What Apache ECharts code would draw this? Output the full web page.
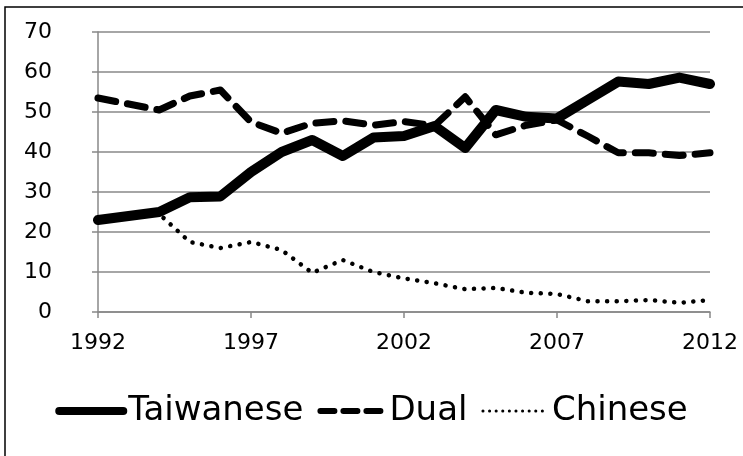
<!DOCTYPE html>
<html>
<head>
<meta charset="utf-8">
<script src="https://cdn.jsdelivr.net/npm/echarts@6/dist/echarts.min.js"></script>
<style>
  html, body { margin: 0; padding: 0; background: #fff; }
  #chart { width: 743px; height: 456px; }
</style>
</head>
<body>
<div id="chart"></div>
<script>
// years on the x axis (1993 has no survey point, lines are joined across it)
var years = ['1992', '1993', '1994', '1995', '1996', '1997', '1998', '1999', '2000', '2001', '2002',
  '2003', '2004', '2005', '2006', '2007', '2008', '2009', '2010', '2011', '2012']

var taiwanese = [23, null, 25, 28.7, 28.9, 35, 40, 43, 39, 43.6, 44,
  46.5, 41, 50.5, 48.8, 48.4, 53, 57.6, 57, 58.6, 57]
var dual = [53.5, null, 50.5, 54, 55.5, 47.5, 44.7, 47.2, 47.8, 46.7, 47.6,
  46.6, 53.8, 44.3, 46.7, 48, 44, 39.8, 39.8, 39.1, 39.8]
var chinese = [23.3, null, 24.5, 17.5, 16, 17.5, 15.5, 9.8, 13, 10, 8.4,
  7.2, 5.7, 6, 4.8, 4.5, 2.7, 2.7, 3, 2.3, 3]

var yTicks = [0, 10, 20, 30, 40, 50, 60, 70]

var chart = echarts.init(document.getElementById('chart'))

chart.setOption({
  animation: false,
  backgroundColor: '#fff',
  color: ['#000', '#000', '#000'],
  graphic: [{
    type: 'rect',
    shape: { x: 5, y: 7, width: 800, height: 500 },
    style: { fill: 'none', stroke: '#000', lineWidth: 1.5 },
    silent: true
  }],
  grid: {
    left: 98,
    right: 33,
    top: 32,
    bottom: 144,
    containLabel: false,
    outerBoundsMode: 'none'
  },
  legend: {
    left: 'center',
    top: 389,
    itemWidth: 64,
    itemHeight: 10,
    itemGap: 14,
    itemStyle: { opacity: 0 },
    textStyle: {
      fontFamily: 'DejaVu Sans',
      fontSize: 34,
      color: '#000'
    },
    data: [
      { name: 'Taiwanese', lineStyle: { width: 8 } },
      { name: 'Dual', lineStyle: { width: 6, type: [14, 9] } },
      { name: 'Chinese', lineStyle: { width: 3, type: [0.1, 6.5] } }
    ]
  },
  xAxis: {
    type: 'category',
    data: years,
    boundaryGap: false,
    axisLine: { lineStyle: { color: '#888', width: 1.5 } },
    axisTick: { show: true, interval: 4, length: 6, lineStyle: { color: '#888', width: 1.5 } },
    axisLabel: {
      interval: 4,
      margin: 20,
      color: '#000',
      fontFamily: 'DejaVu Sans',
      fontSize: 22
    },
    splitLine: { show: false }
  },
  yAxis: {
    type: 'value',
    min: yTicks[0],
    max: yTicks[yTicks.length - 1],
    interval: 10,
    axisLine: { show: true, lineStyle: { color: '#888', width: 1.5 } },
    axisTick: { show: true, length: 6, lineStyle: { color: '#888', width: 1.5 } },
    axisLabel: {
      margin: 46,
      color: '#000',
      fontFamily: 'DejaVu Sans',
      fontSize: 22
    },
    splitLine: { lineStyle: { color: '#888', width: 1.5 } }
  },
  series: [{
    name: 'Chinese',
    type: 'line',
    data: chinese,
    connectNulls: true,
    symbol: 'none',
    z: 2,
    lineStyle: { color: '#000', width: 4.5, type: [0.1, 9.5], cap: 'round', join: 'round' }
  }, {
    name: 'Dual',
    type: 'line',
    data: dual,
    connectNulls: true,
    symbol: 'none',
    z: 3,
    lineStyle: { color: '#000', width: 7, type: [18, 12], cap: 'round', join: 'round' }
  }, {
    name: 'Taiwanese',
    type: 'line',
    data: taiwanese,
    connectNulls: true,
    symbol: 'none',
    z: 4,
    lineStyle: { color: '#000', width: 10, cap: 'round', join: 'round' }
  }]
})
</script>
</body>
</html>
